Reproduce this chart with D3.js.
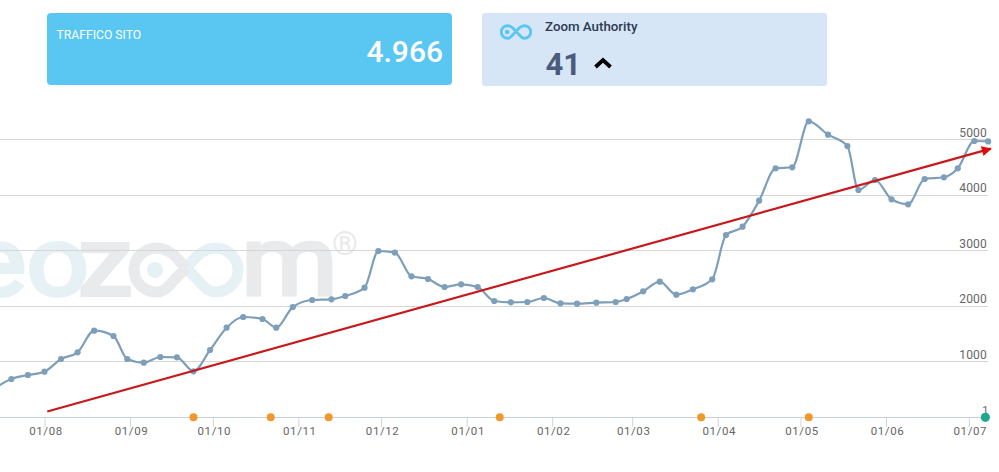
<!DOCTYPE html>
<html>
<head>
<meta charset="utf-8">
<script src="https://cdnjs.cloudflare.com/ajax/libs/d3/7.8.5/d3.min.js"></script>
<style>
    html, body { margin: 0; padding: 0; background: #fff; overflow: hidden; }
    text { font-family: Roboto, sans-serif; }
    .axis path { stroke: #c6d2d8; }
    .axis line { stroke: #ccd5da; }
    .axis text { fill: #666; font-size: 11.5px; letter-spacing: .6px; }
    .grid line { stroke: #d6d6d6; }
    .grid text { fill: #666; font-size: 12px; letter-spacing: .2px; }
</style>
</head>
<body>
<div class="container"></div>
<script>
const dates = ["2015-07-14", "2015-07-20", "2015-07-26", "2015-08-01", "2015-08-07", "2015-08-13", "2015-08-19", "2015-08-26",
    "2015-08-31", "2015-09-06", "2015-09-12", "2015-09-18", "2015-09-24", "2015-09-30", "2015-10-06", "2015-10-12",
    "2015-10-19", "2015-10-24", "2015-10-30", "2015-11-06", "2015-11-13", "2015-11-18", "2015-11-25", "2015-11-30",
    "2015-12-06", "2015-12-12", "2015-12-18", "2015-12-24", "2015-12-30", "2016-01-05", "2016-01-11", "2016-01-17",
    "2016-01-23", "2016-01-29", "2016-02-04", "2016-02-10", "2016-02-17", "2016-02-24", "2016-02-28", "2016-03-05",
    "2016-03-11", "2016-03-17", "2016-03-23", "2016-03-30", "2016-04-04", "2016-04-10", "2016-04-16", "2016-04-22",
    "2016-04-28", "2016-05-04", "2016-05-11", "2016-05-18", "2016-05-22", "2016-05-28", "2016-06-03", "2016-06-09",
    "2016-06-15", "2016-06-22", "2016-06-27", "2016-07-03", "2016-07-08"];
const traffic = [527, 689, 761, 821, 1049, 1170, 1559, 1463,
    1049, 983, 1085, 1080, 828, 1211, 1613, 1805,
    1769, 1613, 1985, 2111, 2124, 2183, 2333, 2993,
    2963, 2538, 2489, 2345, 2394, 2345, 2093, 2070,
    2075, 2147, 2052, 2045, 2063, 2075, 2129, 2268,
    2441, 2207, 2304, 2484, 3281, 3431, 3899, 4482,
    4500, 5328, 5087, 4883, 4091, 4271, 3924, 3834,
    4289, 4320, 4482, 4973, 4966];

const trendDates = ["2015-08-02", "2016-07-09"];
const trendValues = [104, 4835];

const eventDates = ["2015-09-24", "2015-10-22", "2015-11-12", "2016-01-13", "2016-03-26", "2016-05-04"];
const flagDates = ["2016-07-07"];
const flagLabels = ["1"];

const monthTicks = ["2015-08-01", "2015-09-01", "2015-10-01", "2015-11-01", "2015-12-01", "2016-01-01",
    "2016-02-01", "2016-03-01", "2016-04-01", "2016-05-01", "2016-06-01", "2016-07-01"];
const valueTicks = [1000, 2000, 3000, 4000, 5000];

const width = 999, height = 472;
const parse = d3.utcParse("%Y-%m-%d");

let svg = d3.select(".container")
    .append("svg")
    .attr("width", width)
    .attr("height", height)
    .style("display", "block");

let x = d3.scaleUtc()
    .domain([parse("2015-08-01"), parse("2016-07-01")])
    .range([44.5, 968.8]);

let y = d3.scaleLinear()
    .domain([0, 5000])
    .range([417.3, 139.5]);

// logo shape, two loops around 0,0
const logo = (g, tx, ty, k, sw, leftCol, rightCol, dot) => {
    let l = g.append("g").attr("transform", "translate(" + tx + "," + ty + ") scale(" + k + ")");
    l.append("path")
        .attr("d", "M0,-2 L11,-14 C17,-19 23,-22 29,-22 C42,-22 52,-12 52,0 C52,12 42,22 29,22 C23,22 17,17 11,9 L0,-2")
        .attr("fill", "none").attr("stroke", rightCol).attr("stroke-width", sw);
    l.append("path")
        .attr("d", "M0,-2 L-11,9 C-17,17 -23,22 -29,22 C-42,22 -52,12 -52,0 C-52,-12 -42,-22 -29,-22 C-23,-22 -17,-19 -11,-14 L0,-2")
        .attr("fill", "none").attr("stroke", leftCol).attr("stroke-width", sw);
    l.append("circle").attr("cx", -31).attr("cy", 0).attr("r", dot).attr("fill", rightCol);
};

// top boxes
svg.append("rect").attr("x", 47).attr("y", 13).attr("width", 405).attr("height", 72).attr("rx", 4).attr("fill", "#5ac7f2");
svg.append("text").attr("x", 56.5).attr("y", 39).attr("fill", "#fff").style("font-size", "12.2px").text("TRAFFICO SITO");
svg.append("text").attr("x", 443).attr("y", 62).attr("text-anchor", "end").attr("fill", "#fff")
    .style("font-size", "30px").style("font-weight", 500).text("4.966");

svg.append("rect").attr("x", 482).attr("y", 13).attr("width", 345).attr("height", 73).attr("rx", 3).attr("fill", "#d6e6f7");
svg.append("text").attr("x", 545).attr("y", 31).attr("fill", "#2e3a52")
    .style("font-size", "13.3px").style("font-weight", 500).text("Zoom Authority");
svg.append("text").attr("x", 545.5).attr("y", 75).attr("fill", "#4b5b7c")
    .style("font-size", "31px").style("font-weight", 700).text("41");
svg.append("path").attr("d", "M595.5,67 L603,60 L610.5,67").attr("fill", "none").attr("stroke", "#000").attr("stroke-width", 3.8);
logo(svg, 516, 32, .285, 10, "#5ac7f2", "#5ac7f2", 8);

// watermark
let mark = svg.append("g");
const markText = (txt, xp, col) => mark.append("text")
    .attr("transform", "translate(" + xp + ",295) scale(1.14,1)")
    .attr("fill", col)
    .attr("stroke", col)
    .attr("stroke-width", 4)
    .style("font-size", "96px")
    .text(txt);
markText("e", -32, "#e6f1f6");
markText("o", 26.5, "#e6f1f6");
markText("z", 78, "#e9eaeb");
markText("m", 241.5, "#e9eaeb");
logo(mark, 186, 270, 1, 11, "#e9eaeb", "#e6f1f6", 8);
mark.append("text").attr("x", 345).attr("y", 255).attr("text-anchor", "middle").attr("fill", "#e9eaeb")
    .style("font-size", "33px").text("®");

// grid and right labels
let grid = svg.append("g").attr("class", "grid")
    .selectAll("g")
    .data(valueTicks)
    .enter()
    .append("g");
grid.append("line")
    .attr("x1", 0)
    .attr("x2", 988)
    .attr("y1", function (d) { return Math.floor(y(d)) + .5; })
    .attr("y2", function (d) { return Math.floor(y(d)) + .5; });
grid.append("text")
    .attr("x", 987)
    .attr("y", function (d) { return y(d) - 3; })
    .attr("text-anchor", "end")
    .text(function (d) { return d; });

// x axis
let xAxis = d3.axisBottom(x)
    .tickValues(monthTicks.map(parse))
    .tickFormat(d3.utcFormat("%d/%m"))
    .tickSize(10)
    .tickPadding(1);
let axisG = svg.append("g")
    .attr("class", "axis")
    .attr("transform", "translate(0," + 417 + ")")
    .call(xAxis);
axisG.select(".domain").attr("d", "M0,0.5H988");
axisG.selectAll(".tick text").attr("dx", 1).attr("y", 10);

// traffic line
const points = dates.map((d, i) => ({ date: parse(d), value: traffic[i] }));
let line = d3.line()
    .x(function (d) { return x(d.date); })
    .y(function (d) { return y(d.value); })
    .curve(d3.curveMonotoneX);

svg.append("path")
    .datum(points)
    .attr("d", line)
    .attr("fill", "none")
    .attr("stroke", "#7e9fb9")
    .attr("stroke-width", 2.2);

svg.append("g")
    .selectAll("circle")
    .data(points)
    .enter()
    .append("circle")
    .attr("cx", function (d) { return x(d.date); })
    .attr("cy", function (d) { return y(d.value); })
    .attr("r", 3.1)
    .attr("fill", "#7e9fb9");

// trend arrow
const trend = trendDates.map((d, i) => [x(parse(d)), y(trendValues[i])]);
svg.append("defs").append("marker")
    .attr("id", "arrow")
    .attr("viewBox", "0 0 10 10")
    .attr("refX", 9)
    .attr("refY", 5)
    .attr("markerUnits", "userSpaceOnUse")
    .attr("markerWidth", 11)
    .attr("markerHeight", 10)
    .attr("orient", "auto")
    .append("path")
    .attr("d", "M0,0 L10,5 L0,10 Z")
    .attr("fill", "#e10a0a");
svg.append("line")
    .attr("x1", trend[0][0])
    .attr("y1", trend[0][1])
    .attr("x2", trend[1][0])
    .attr("y2", trend[1][1])
    .attr("stroke", "#c8181c")
    .attr("stroke-width", 2.2)
    .attr("marker-end", "url(#arrow)");

// event dots
svg.append("g")
    .selectAll("circle")
    .data(eventDates)
    .enter()
    .append("circle")
    .attr("cx", function (d) { return x(parse(d)); })
    .attr("cy", y(0))
    .attr("r", 4)
    .attr("fill", "#f0992a");

svg.append("g")
    .selectAll("text")
    .data(flagLabels)
    .enter()
    .append("text")
    .attr("x", function (d, i) { return x(parse(flagDates[i])); })
    .attr("y", y(0) - 3)
    .attr("text-anchor", "middle")
    .attr("fill", "#666")
    .style("font-size", "11px")
    .text(function (d) { return d; });

svg.append("g")
    .selectAll("circle")
    .data(flagDates)
    .enter()
    .append("circle")
    .attr("cx", function (d) { return x(parse(d)); })
    .attr("cy", y(0))
    .attr("r", 4.6)
    .attr("fill", "#1fa78e");
</script>
</body>
</html>
